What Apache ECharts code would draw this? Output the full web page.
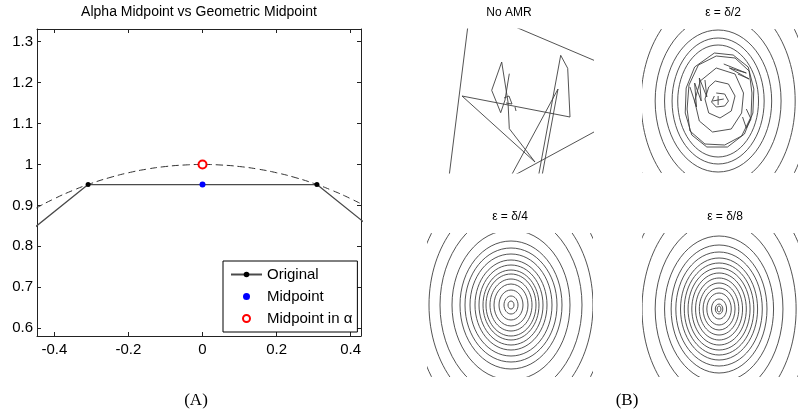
<!DOCTYPE html>
<html><head><meta charset="utf-8">
<script src="https://cdn.jsdelivr.net/npm/echarts@6/dist/echarts.min.js"></script>
<style>html,body{margin:0;padding:0;background:#fff}#c{width:798px;height:417px}</style>
</head><body><div id="c"></div>
<script>
// ---------- Panel A data ----------
const xTicks = [-0.4, -0.2, 0, 0.2, 0.4];
const yTicks = [0.6, 0.7, 0.8, 0.9, 1, 1.1, 1.2, 1.3];
const originalX = [-0.809, -0.309, 0.309, 0.809];
const originalY = [0.588, 0.951, 0.951, 0.588];
const arcX = [-0.5, -0.45, -0.4, -0.35, -0.3, -0.25, -0.2, -0.15, -0.1, -0.05, 0, 0.05, 0.1, 0.15, 0.2, 0.25, 0.3, 0.35, 0.4, 0.45, 0.5];
const arcY = [0.866, 0.893, 0.9165, 0.9367, 0.9539, 0.9682, 0.9798, 0.9887, 0.995, 0.9987, 1, 0.9987, 0.995, 0.9887, 0.9798, 0.9682, 0.9539, 0.9367, 0.9165, 0.893, 0.866];
const midpointXY = [0, 0.951];
const alphaMidXY = [0, 1.0];

// ---------- Panel B data (offsets in sub-plot units) ----------
// No AMR trajectory pieces
const noAmrPaths = [
  [[-62, -84], [-41, 84]],
  [[-11, 81], [95, 36]],
  [[3, -75], [95, -25]],
  [[1, -75], [48, 12], [32, -75]],
  [[28.5, -75], [50.7, 45.7], [57.7, 32.7], [60, -16], [-48, 5], [25, -61], [-0.7, -27.7], [-2, -1], [-8.3, 39], [-18.3, 10.7], [-9.3, -11.7], [-5, 1], [-0.7, 27.3]],
  [[-6, 3], [-1, 5], [2, -3], [-4, -2]],
  [[5, -6], [6, -10]]
];
// eps = delta/2 : regular outer rings + irregular inner loops
const d2Center = [-2, 0];
const d2Rx = [43, 49, 57, 67, 82, 98];
const d2Ry = [56, 63, 71, 85, 106, 128];
const d2Loops = [
  [[-6, 48], [14, 46], [30, 34], [36, 12], [35, -12], [26, -33], [8, -46], [-14, -46], [-30, -34], [-37, -12], [-36, 13], [-27, 34], [-6, 48]],
  [[-4, 45], [16, 43], [31, 30], [34, 8], [33, -16], [23, -35], [5, -44], [-16, -43], [-32, -30], [-35, -8], [-33, 16], [-23, 36], [-4, 45]],
  [[-4, 33], [16, 27], [25, 8], [23, -12], [12, -28], [-8, -31], [-22, -20], [-27, 0], [-21, 20], [-4, 33]],
  [[-5, 20], [9, 17], [16, 5], [12, -10], [0, -17], [-12, -12], [-16, 2], [-12, 14], [-5, 20]],
  [[-4, 8], [5, 7], [9, 0], [5, -5], [-4, -6], [-9, -1], [-6, 5]],
  [[-32, 14], [-25, -6], [-27, 18], [-20, 0], [-22, 23], [-14, 4], [-16, 21]],
  [[4, 37], [28, 28], [10, 33], [31, 22], [19, 27]],
  [[28, -8], [33, -18], [28, -27], [24, -16]],
  [[-8, 0], [4, 2]], [[-2, -4], [-2, 5]]
];
// eps = delta/4
const d4Center = [1, 0];
const d4Rx = [3, 7, 12, 17, 21, 25, 28, 32, 36, 41, 46, 51, 59, 71, 82, 96];
const d4Ry = [4, 9, 15, 21, 26, 31, 35, 40, 45, 51, 57, 64, 75, 92, 108, 128];
// eps = delta/8
const d8Center = [-1, -4];
const d8Rx = [2, 4, 8, 13, 17, 21, 25, 29, 33, 37, 41, 46, 51, 58, 68, 82, 98];
const d8Ry = [3, 5, 10, 16, 21, 26, 31, 36, 41, 46, 51, 57, 64, 73, 88, 108, 130];

const panelTitles = ['No AMR', 'ε = δ/2', 'ε = δ/4', 'ε = δ/8'];
const mainTitle = 'Alpha Midpoint vs Geometric Midpoint';
const captions = ['(A)', '(B)'];
const legendNames = ['Original', 'Midpoint', 'Midpoint in α'];

// ---------- build ----------
const SANS = '"Liberation Sans", Arial, Helvetica, sans-serif';
const SERIF = '"Liberation Serif", "DejaVu Serif", serif';
const chart = echarts.init(document.getElementById('c'));
const AX = '#222';
const LINE_B = '#404040';

const grids = [
  {left: 37, top: 29, width: 324, height: 307},
  {left: 427, top: 29, width: 166, height: 144},
  {left: 642, top: 29, width: 166, height: 144},
  {left: 427, top: 233, width: 166, height: 144},
  {left: 642, top: 233, width: 166, height: 144}
];
const fmt = v => String(Math.round(v * 10) / 10);
function aAxisX(pos, labels) {
  return {type: 'value', gridIndex: 0, position: pos, min: -0.447, max: 0.428,
    axisLine: {show: true, onZero: false, lineStyle: {color: AX, width: 1}},
    axisTick: {show: true, inside: true, length: 4, customValues: xTicks, lineStyle: {color: AX}},
    axisLabel: {show: labels, customValues: xTicks, formatter: fmt, fontFamily: SANS, fontSize: 15, color: '#000', margin: 6},
    splitLine: {show: false}};
}
function aAxisY(pos, labels) {
  return {type: 'value', gridIndex: 0, position: pos, min: 0.581, max: 1.331,
    axisLine: {show: true, onZero: false, lineStyle: {color: AX, width: 1}},
    axisTick: {show: true, inside: true, length: 4, customValues: yTicks, lineStyle: {color: AX}},
    axisLabel: {show: labels, customValues: yTicks, formatter: fmt, fontFamily: SANS, fontSize: 15, color: '#000', margin: 4},
    splitLine: {show: false}};
}
const xAxes = [aAxisX('bottom', true), aAxisX('top', false)];
const yAxes = [aAxisY('left', true), aAxisY('right', false)];
for (let g = 1; g <= 4; g++) {
  xAxes.push({type: 'value', gridIndex: g, min: -83, max: 83, show: false});
  yAxes.push({type: 'value', gridIndex: g, min: -72, max: 72, show: false});
}

const series = [
  {name: 'arc', type: 'line', xAxisIndex: 0, yAxisIndex: 0, smooth: true, symbol: 'none', clip: true,
    data: arcX.map((x, i) => [x, arcY[i]]),
    lineStyle: {color: '#333', width: 1, type: [7, 4]}, silent: true, z: 2},
  {name: legendNames[0], type: 'line', xAxisIndex: 0, yAxisIndex: 0, clip: true,
    data: originalX.map((x, i) => [x, originalY[i]]),
    symbol: 'circle', symbolSize: 5, showSymbol: true,
    itemStyle: {color: '#000'}, lineStyle: {color: '#4a4a4a', width: 1.3}, z: 3},
  {name: legendNames[1], type: 'scatter', xAxisIndex: 0, yAxisIndex: 0,
    data: [midpointXY], symbol: 'circle', symbolSize: 6, itemStyle: {color: '#0000ff', opacity: 1}, z: 5},
  {name: legendNames[2], type: 'scatter', xAxisIndex: 0, yAxisIndex: 0,
    data: [alphaMidXY], symbol: 'emptyCircle', symbolSize: 8, itemStyle: {color: '#ff0000', borderWidth: 1, opacity: 1}, z: 5}
];

function polySeries(gi, paths) {
  paths.forEach(p => series.push({type: 'line', xAxisIndex: gi + 1, yAxisIndex: gi + 1, clip: true,
    symbol: 'none', silent: true, data: p, lineStyle: {color: LINE_B, width: 0.9}}));
}
function ringSeries(gi, center, rx, ry) {
  series.push({type: 'custom', xAxisIndex: gi + 1, yAxisIndex: gi + 1, clip: true, silent: true,
    data: rx.map((r, i) => [center[0], center[1], r, ry[i]]),
    encode: {x: 0, y: 1},
    renderItem: function (params, api) {
      const c = api.coord([api.value(0), api.value(1)]);
      const s = api.size([api.value(2), api.value(3)]);
      const cs = params.coordSys;
      return {type: 'group', children: [{type: 'ellipse', shape: {cx: c[0], cy: c[1], rx: s[0], ry: s[1]},
        style: {fill: null, stroke: LINE_B, lineWidth: 0.9}}],
        clipPath: {type: 'rect', shape: {x: cs.x, y: cs.y, width: cs.width, height: cs.height}}};
    }});
}
polySeries(1, noAmrPaths);
ringSeries(2, d2Center, d2Rx, d2Ry);
polySeries(2, d2Loops);
ringSeries(3, d4Center, d4Rx, d4Ry);
ringSeries(4, d8Center, d8Rx, d8Ry);

const txt = (s, x, y, font) => ({type: 'text', x: x, y: y, silent: true,
  style: {text: s, x: 0, y: 0, align: 'center', verticalAlign: 'middle', font: font, fill: '#000'}});

chart.setOption({
  animation: false,
  backgroundColor: '#fff',
  grid: grids,
  xAxis: xAxes,
  yAxis: yAxes,
  legend: {data: legendNames, orient: 'vertical', left: 223, top: 261, itemWidth: 31, itemHeight: 7, itemGap: 7,
    padding: [6, 5, 6, 7], borderColor: '#000', borderWidth: 1, backgroundColor: '#fff', borderRadius: 0,
    selectedMode: false, textStyle: {fontFamily: SANS, fontSize: 15, lineHeight: 15, color: '#000'}},
  graphic: [
    txt(mainTitle, 199, 12, '14px ' + SANS),
    txt(panelTitles[0], 509, 13, '12px ' + SANS),
    txt(panelTitles[1], 723, 13, '12px ' + SANS),
    txt(panelTitles[2], 510, 217, '12px ' + SANS),
    txt(panelTitles[3], 725, 217, '12px ' + SANS),
    txt(captions[0], 196, 401, '17px ' + SERIF),
    txt(captions[1], 627, 401, '17px ' + SERIF)
  ],
  series: series
});
</script></body></html>
